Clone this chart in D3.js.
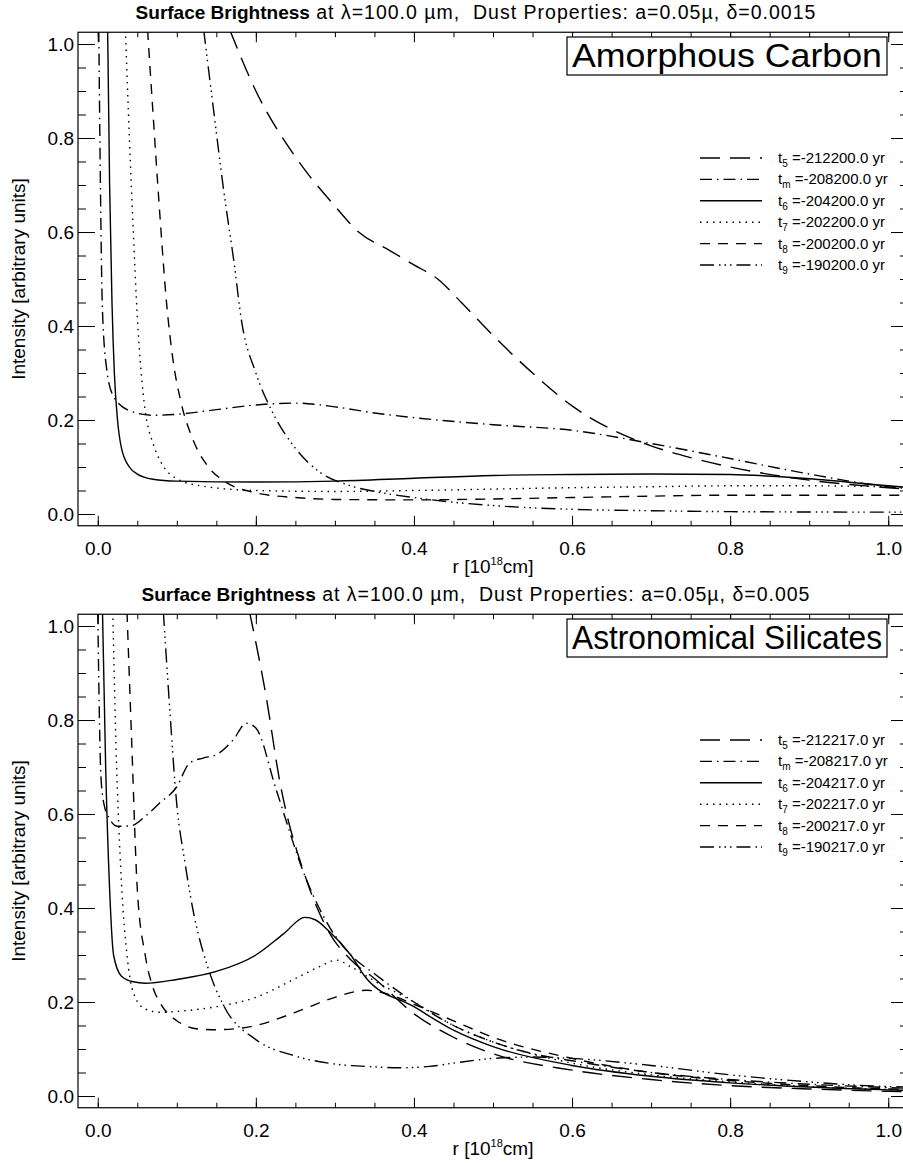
<!DOCTYPE html>
<html>
<head>
<meta charset="utf-8">
<script src="https://cdn.jsdelivr.net/npm/d3@7"></script>
<style>
  body { margin: 0; background: #fff; }
  svg { font-family: "Liberation Sans", Arial, sans-serif; }
  text { white-space: pre; }
</style>
</head>
<body>
<div id="chart"></div>
<script>
// series keys in legend order
const seriesKeys = ["t5", "tm", "t6", "t7", "t8", "t9"];
const subLabels = ["5", "m", "6", "7", "8", "9"];

// Amorphous carbon, delta=0.0015  [r, I]
const carbon_t5 = [[0.167,1.03],[0.2,0.90],[0.25,0.76],[0.3,0.655],[0.33,0.60],[0.37,0.56],[0.40,0.53],[0.43,0.50],[0.46,0.45],[0.5,0.38],[0.55,0.30],[0.6,0.23],[0.65,0.18],[0.7,0.145],[0.75,0.12],[0.8,0.10],[0.9,0.072],[1.0,0.056],[1.03,0.052]];
const carbon_tm = [[0.0013,1.03],[0.003,0.75],[0.006,0.43],[0.012,0.3],[0.02,0.25],[0.04,0.22],[0.07,0.21],[0.1,0.212],[0.15,0.222],[0.2,0.232],[0.25,0.236],[0.3,0.228],[0.35,0.215],[0.4,0.205],[0.5,0.19],[0.6,0.178],[0.7,0.15],[0.8,0.118],[0.9,0.085],[1.0,0.058],[1.03,0.053]];
const carbon_t6 = [[0.0125,1.03],[0.015,0.7],[0.018,0.45],[0.021,0.3],[0.025,0.2],[0.03,0.14],[0.04,0.1],[0.05,0.085],[0.07,0.074],[0.1,0.07],[0.2,0.068],[0.3,0.07],[0.4,0.076],[0.5,0.082],[0.6,0.084],[0.7,0.085],[0.8,0.084],[0.9,0.075],[1.0,0.06],[1.03,0.056]];
const carbon_t7 = [[0.035,1.03],[0.04,0.8],[0.045,0.6],[0.05,0.42],[0.055,0.3],[0.06,0.22],[0.07,0.15],[0.08,0.11],[0.1,0.075],[0.13,0.06],[0.2,0.05],[0.3,0.048],[0.4,0.05],[0.5,0.053],[0.6,0.056],[0.7,0.058],[0.8,0.06],[0.9,0.06],[1.0,0.058],[1.03,0.057]];
const carbon_t8 = [[0.063,1.03],[0.07,0.85],[0.078,0.65],[0.087,0.45],[0.095,0.33],[0.105,0.24],[0.12,0.16],[0.14,0.1],[0.16,0.07],[0.2,0.045],[0.25,0.035],[0.3,0.031],[0.4,0.03],[0.5,0.032],[0.6,0.035],[0.7,0.038],[0.8,0.04],[0.9,0.04],[1.0,0.04],[1.03,0.04]];
const carbon_t9 = [[0.134,1.03],[0.145,0.88],[0.16,0.68],[0.172,0.54],[0.182,0.41],[0.2,0.3],[0.22,0.22],[0.25,0.14],[0.28,0.09],[0.32,0.06],[0.36,0.045],[0.4,0.035],[0.45,0.025],[0.5,0.018],[0.6,0.01],[0.7,0.007],[0.8,0.005],[1.0,0.004],[1.03,0.004]];

// Astronomical silicates, delta=0.005
const sil_t5 = [[0.192,1.03],[0.213,0.85],[0.23,0.672],[0.264,0.46],[0.293,0.347],[0.32,0.29],[0.35,0.25],[0.4,0.175],[0.45,0.125],[0.5,0.09],[0.6,0.055],[0.7,0.035],[0.8,0.022],[0.9,0.015],[1.0,0.01],[1.03,0.009]];
const sil_tm = [[0.0,1.03],[0.004,0.68],[0.008,0.62],[0.015,0.59],[0.025,0.574],[0.042,0.575],[0.06,0.595],[0.078,0.623],[0.1,0.658],[0.116,0.708],[0.133,0.719],[0.15,0.726],[0.171,0.757],[0.188,0.793],[0.2,0.783],[0.226,0.65],[0.264,0.46],[0.293,0.36],[0.32,0.3],[0.35,0.26],[0.4,0.2],[0.45,0.15],[0.5,0.115],[0.55,0.09],[0.6,0.075],[0.7,0.05],[0.8,0.035],[0.9,0.025],[1.0,0.018],[1.03,0.016]];
const sil_t6 = [[0.006,1.03],[0.01,0.7],[0.015,0.44],[0.02,0.3],[0.03,0.255],[0.045,0.243],[0.06,0.24],[0.1,0.248],[0.15,0.265],[0.2,0.3],[0.235,0.345],[0.262,0.38],[0.275,0.375],[0.293,0.35],[0.32,0.3],[0.34,0.25],[0.4,0.19],[0.45,0.14],[0.5,0.105],[0.6,0.065],[0.7,0.042],[0.8,0.028],[0.9,0.019],[1.0,0.013],[1.03,0.012]];
const sil_t7 = [[0.019,1.03],[0.023,0.75],[0.03,0.453],[0.037,0.3],[0.045,0.22],[0.06,0.185],[0.08,0.178],[0.1,0.18],[0.15,0.19],[0.2,0.21],[0.25,0.25],[0.28,0.275],[0.302,0.289],[0.32,0.275],[0.35,0.245],[0.4,0.2],[0.45,0.15],[0.5,0.115],[0.6,0.07],[0.7,0.045],[0.8,0.03],[0.9,0.02],[1.0,0.014],[1.03,0.013]];
const sil_t8 = [[0.037,1.03],[0.043,0.75],[0.05,0.44],[0.06,0.3],[0.07,0.23],[0.08,0.195],[0.1,0.16],[0.13,0.142],[0.15,0.141],[0.2,0.15],[0.25,0.178],[0.3,0.21],[0.34,0.225],[0.37,0.215],[0.4,0.195],[0.45,0.16],[0.5,0.125],[0.6,0.08],[0.7,0.05],[0.8,0.033],[0.9,0.022],[1.0,0.015],[1.03,0.014]];
const sil_t9 = [[0.083,1.03],[0.09,0.85],[0.1,0.62],[0.11,0.5],[0.12,0.4],[0.14,0.27],[0.16,0.19],[0.2,0.12],[0.25,0.085],[0.3,0.068],[0.35,0.062],[0.38,0.06],[0.42,0.063],[0.45,0.07],[0.5,0.08],[0.55,0.083],[0.6,0.08],[0.7,0.065],[0.8,0.045],[0.9,0.03],[1.0,0.02],[1.03,0.019]];

const carbonTimes = ["-212200.0", "-208200.0", "-204200.0", "-202200.0", "-200200.0", "-190200.0"];
const silTimes = ["-212217.0", "-208217.0", "-204217.0", "-202217.0", "-200217.0", "-190217.0"];

const xTicks = [0.0, 0.2, 0.4, 0.6, 0.8, 1.0];
const yTicks = [0.0, 0.2, 0.4, 0.6, 0.8, 1.0];

// IDL linestyles
const dashes = {
  t5: "20,10",
  tm: "12,5,1.5,5",
  t6: null,
  t7: "1.5,5",
  t8: "10,8",
  t9: "14,5,1.5,4,1.5,4,1.5,5"
};

const W = 903, H = 1163;
const svg = d3.select("#chart").append("svg").attr("width", W).attr("height", H);

function drawPanel(top, data, times, deltaText, boxLabel, id) {
  const x = d3.scaleLinear().domain([-0.025, 1.025]).range([78, 908]);
  const y = d3.scaleLinear().domain([-0.025, 1.025]).range([top + 492.75, top - 0.75]);
  const g = svg.append("g");
  const x0 = x.range()[0], x1 = x.range()[1];
  const y0 = y.range()[0], y1 = y.range()[1];

  g.append("clipPath").attr("id", id).append("rect")
    .attr("x", x0).attr("y", y1).attr("width", x1 - x0).attr("height", y0 - y1);

  const line = d3.line().x(d => x(d[0])).y(d => y(d[1])).curve(d3.curveMonotoneX);
  seriesKeys.forEach((k, i) => {
    g.append("path")
      .attr("clip-path", "url(#" + id + ")")
      .attr("d", line(data[i]))
      .attr("fill", "none")
      .attr("stroke", "#000")
      .attr("stroke-width", 1.4)
      .attr("stroke-dasharray", dashes[k]);
  });

  // frame
  g.append("rect").attr("x", x0).attr("y", y1).attr("width", x1 - x0).attr("height", y0 - y1)
    .attr("fill", "none").attr("stroke", "#000").attr("stroke-width", 1.2);

  const minorX = d3.range(0, 1.0001, 0.05);
  const minorY = d3.range(0, 1.0001, 0.05);
  g.append("g").attr("transform", `translate(0,${y0})`).call(d3.axisBottom(x).tickValues(minorX).tickSize(-5).tickFormat(""));
  g.append("g").attr("transform", `translate(0,${y1})`).call(d3.axisTop(x).tickValues(minorX).tickSize(-5).tickFormat(""));
  g.append("g").attr("transform", `translate(${x0},0)`).call(d3.axisLeft(y).tickValues(minorY).tickSize(-8).tickFormat(""));
  g.append("g").attr("transform", `translate(${x1},0)`).call(d3.axisRight(y).tickValues(minorY).tickSize(-8).tickFormat(""));
  // major ticks
  g.append("g").attr("transform", `translate(0,${y0})`)
    .call(d3.axisBottom(x).tickValues(xTicks).tickSize(-10).tickPadding(16).tickFormat(d3.format(".1f")));
  g.append("g").attr("transform", `translate(0,${y1})`)
    .call(d3.axisTop(x).tickValues(xTicks).tickSize(-10).tickFormat(""));
  g.append("g").attr("transform", `translate(${x0},0)`)
    .call(d3.axisLeft(y).tickValues(yTicks).tickSize(-17).tickPadding(4).tickFormat(d3.format(".1f")));
  g.append("g").attr("transform", `translate(${x1},0)`)
    .call(d3.axisRight(y).tickValues(yTicks).tickSize(-17).tickFormat(""));
  g.selectAll(".domain").remove();
  g.selectAll(".tick line").attr("stroke", "#000").attr("stroke-width", 1);
  g.selectAll(".tick text").attr("font-size", 19).attr("font-family", "Liberation Sans, Arial, sans-serif").attr("fill", "#000");

  // title
  const t = g.append("text").attr("x", 476).attr("y", top - 14).attr("text-anchor", "middle")
    .attr("font-size", 19.5).attr("fill", "#000");
  t.append("tspan").attr("font-weight", "bold").attr("font-size", 19).text("Surface Brightness");
  t.append("tspan").attr("letter-spacing", 1.0).text(" at \u03bb=100.0 \u00b5m,  Dust Properties: a=0.05\u00b5, \u03b4=" + deltaText);

  // axis titles
  const xt = g.append("text").attr("x", 493).attr("y", y0 + 47).attr("text-anchor", "middle")
    .attr("font-size", 19).attr("fill", "#000");
  xt.append("tspan").text("r [10");
  xt.append("tspan").attr("font-size", 11).attr("dy", -8).text("18");
  xt.append("tspan").attr("dy", 8).text("cm]");
  g.append("text").attr("transform", `translate(25,${(y0 + y1) / 2}) rotate(-90)`)
    .attr("text-anchor", "middle").attr("font-size", 19).attr("fill", "#000")
    .text("Intensity [arbitrary units]");

  // label box, fixed frame in the upper right
  const bx = g.append("g");
  bx.append("rect").attr("x", 567).attr("y", top + 4).attr("width", 320).attr("height", 38)
    .attr("fill", "#fff").attr("stroke", "#000").attr("stroke-width", 1.2);
  bx.append("text").attr("x", 572).attr("y", top + 34)
    .attr("font-size", 33).attr("fill", "#000")
    .attr("textLength", 310).attr("lengthAdjust", "spacingAndGlyphs").text(boxLabel);

  // legend
  seriesKeys.forEach((k, i) => {
    const ly = top + 125 + i * 21.4;
    g.append("line").attr("x1", 700).attr("x2", 762).attr("y1", ly).attr("y2", ly)
      .attr("stroke", "#000").attr("stroke-width", 1.4).attr("stroke-dasharray", dashes[k]);
    const tx = g.append("text").attr("x", 778).attr("y", ly + 5).attr("font-size", 15).attr("fill", "#000");
    tx.append("tspan").text("t");
    tx.append("tspan").attr("font-size", 10).attr("dy", 4).text(subLabels[i]);
    tx.append("tspan").attr("dy", -4).text(" =" + times[i] + " yr");
  });
}

drawPanel(33, [carbon_t5, carbon_tm, carbon_t6, carbon_t7, carbon_t8, carbon_t9],
  carbonTimes, "0.0015", "Amorphous Carbon", "clipTop");
drawPanel(615, [sil_t5, sil_tm, sil_t6, sil_t7, sil_t8, sil_t9],
  silTimes, "0.005", "Astronomical Silicates", "clipBottom");
</script>
</body>
</html>
